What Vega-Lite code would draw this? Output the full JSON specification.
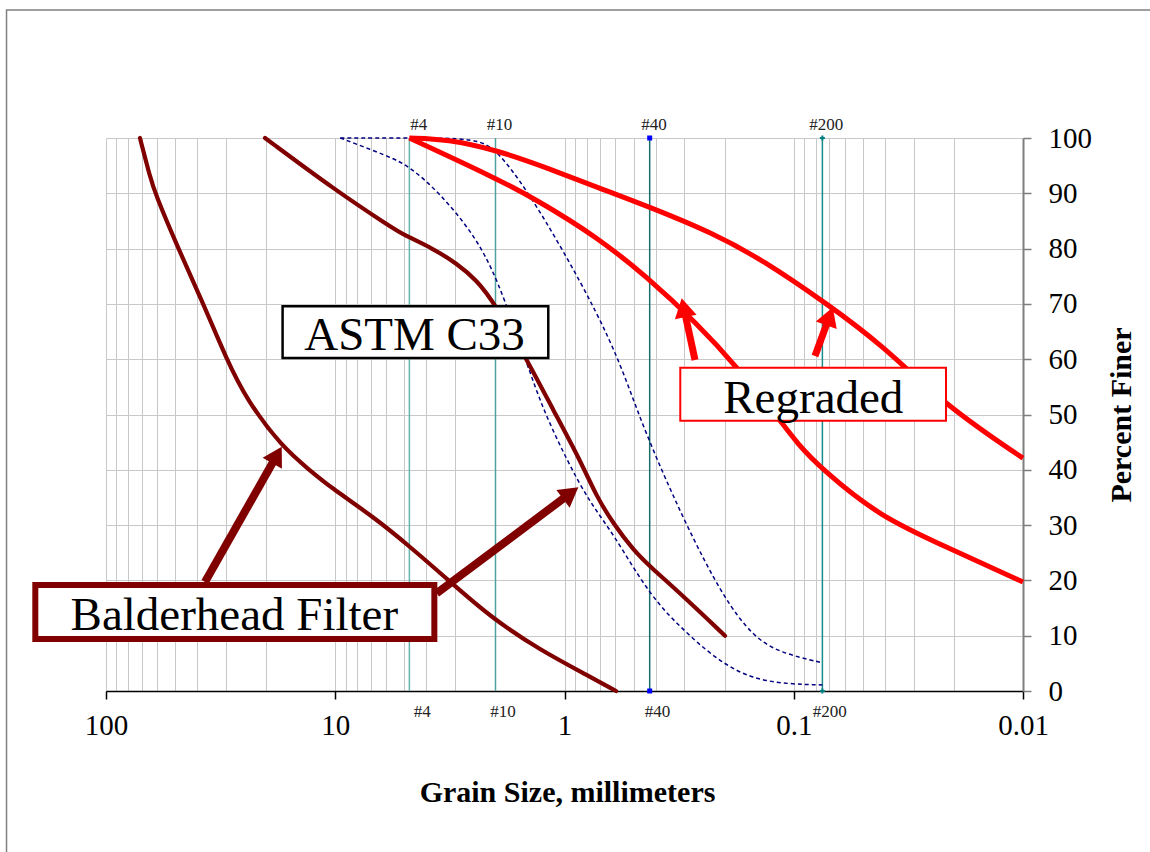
{
  "$schema": "https://vega.github.io/schema/vega-lite/v6.json",
  "width": 917,
  "height": 553,
  "autosize": {"type": "none"},
  "padding": {"left": 106, "top": 138, "right": 127, "bottom": 161},
  "background": "white",
  "view": {"stroke": null},
  "config": {"font": "Liberation Serif"},
  "resolve": {"scale": {"color": "independent", "strokeWidth": "independent", "shape": "independent"}},
  "datasets": {
    "curves": [
      {"s": "B1", "d": 71.1, "p": 100}, {"s": "B1", "d": 64.3, "p": 93}, {"s": "B1", "d": 61.1, "p": 90},
      {"s": "B1", "d": 48.4, "p": 80}, {"s": "B1", "d": 37.6, "p": 70}, {"s": "B1", "d": 29.8, "p": 60},
      {"s": "B1", "d": 24.3, "p": 52.6}, {"s": "B1", "d": 17.12, "p": 44.2}, {"s": "B1", "d": 12.98, "p": 40},
      {"s": "B1", "d": 10.54, "p": 36.9}, {"s": "B1", "d": 6.82, "p": 31.5}, {"s": "B1", "d": 4.72, "p": 26.1},
      {"s": "B1", "d": 3.16, "p": 19.8}, {"s": "B1", "d": 2.11, "p": 13.4}, {"s": "B1", "d": 1.279, "p": 7.4},
      {"s": "B1", "d": 0.774, "p": 2.6}, {"s": "B1", "d": 0.596, "p": 0},
      {"s": "B2", "d": 20.25, "p": 100}, {"s": "B2", "d": 10.03, "p": 90.6}, {"s": "B2", "d": 5.77, "p": 84.0},
      {"s": "B2", "d": 5.05, "p": 82.5}, {"s": "B2", "d": 3.735, "p": 80.0}, {"s": "B2", "d": 2.953, "p": 77.3},
      {"s": "B2", "d": 2.415, "p": 74.3}, {"s": "B2", "d": 2.011, "p": 70}, {"s": "B2", "d": 1.462, "p": 60},
      {"s": "B2", "d": 1.119, "p": 50.8}, {"s": "B2", "d": 0.8557, "p": 41.8}, {"s": "B2", "d": 0.7235, "p": 35.1},
      {"s": "B2", "d": 0.6126, "p": 30.3}, {"s": "B2", "d": 0.501, "p": 25.5}, {"s": "B2", "d": 0.4236, "p": 22.5},
      {"s": "B2", "d": 0.3134, "p": 17.7}, {"s": "B2", "d": 0.1995, "p": 10},
      {"s": "U", "d": 9.5, "p": 100}, {"s": "U", "d": 4.75, "p": 100}, {"s": "U", "d": 2.408, "p": 100},
      {"s": "U", "d": 1.97, "p": 97.8}, {"s": "U", "d": 1.458, "p": 90.6}, {"s": "U", "d": 1.015, "p": 79.7},
      {"s": "U", "d": 0.7214, "p": 68.4}, {"s": "U", "d": 0.5727, "p": 59.3}, {"s": "U", "d": 0.4829, "p": 50.8},
      {"s": "U", "d": 0.3949, "p": 41.8}, {"s": "U", "d": 0.2921, "p": 29.7}, {"s": "U", "d": 0.2035, "p": 17.0},
      {"s": "U", "d": 0.1505, "p": 9.8}, {"s": "U", "d": 0.1148, "p": 6.9}, {"s": "U", "d": 0.075, "p": 5.1},
      {"s": "L", "d": 9.5, "p": 100}, {"s": "L", "d": 5.77, "p": 96.6}, {"s": "L", "d": 4.72, "p": 94.8},
      {"s": "L", "d": 3.493, "p": 90}, {"s": "L", "d": 2.506, "p": 82.8}, {"s": "L", "d": 1.97, "p": 74.9},
      {"s": "L", "d": 1.462, "p": 59.3}, {"s": "L", "d": 1.237, "p": 50.8}, {"s": "L", "d": 0.978, "p": 41.8},
      {"s": "L", "d": 0.774, "p": 34.0}, {"s": "L", "d": 0.6126, "p": 28.5}, {"s": "L", "d": 0.4236, "p": 17.1},
      {"s": "L", "d": 0.2931, "p": 10.4}, {"s": "L", "d": 0.2029, "p": 4.7}, {"s": "L", "d": 0.1358, "p": 1.4},
      {"s": "L", "d": 0.075, "p": 1.1},
      {"s": "R1", "d": 4.75, "p": 100}, {"s": "R1", "d": 3.254, "p": 99.8}, {"s": "R1", "d": 1.97, "p": 97.8},
      {"s": "R1", "d": 1.192, "p": 94.6}, {"s": "R1", "d": 0.7214, "p": 91.1}, {"s": "R1", "d": 0.4236, "p": 87.5},
      {"s": "R1", "d": 0.225, "p": 82.8}, {"s": "R1", "d": 0.1362, "p": 77.9}, {"s": "R1", "d": 0.0716, "p": 70},
      {"s": "R1", "d": 0.04205, "p": 62.9}, {"s": "R1", "d": 0.02146, "p": 51.4},
      {"s": "R1", "d": 0.01, "p": 42.1},
      {"s": "R2", "d": 4.75, "p": 100}, {"s": "R2", "d": 2.05, "p": 93}, {"s": "R2", "d": 1.318, "p": 88.8},
      {"s": "R2", "d": 0.7214, "p": 82.1}, {"s": "R2", "d": 0.4366, "p": 74.9}, {"s": "R2", "d": 0.2651, "p": 66.5},
      {"s": "R2", "d": 0.1768, "p": 58.6}, {"s": "R2", "d": 0.1148, "p": 49}, {"s": "R2", "d": 0.0968, "p": 44.8},
      {"s": "R2", "d": 0.075, "p": 40}, {"s": "R2", "d": 0.04205, "p": 31.5}, {"s": "R2", "d": 0.02146, "p": 26},
      {"s": "R2", "d": 0.01, "p": 19.7}
    ],
    "sieves": [
      {"name": "#4", "d": 4.75, "lx": 4.32},
      {"name": "#10", "d": 2.0, "lx": 1.92},
      {"name": "#40", "d": 0.425, "lx": 0.407},
      {"name": "#200", "d": 0.075, "lx": 0.0721}
    ],
    "arrows": [
      {"g": "Balderhead", "x1": 37.0, "y1": 19.71, "x2": 17.95, "y2": 42.68, "angle": 29.5},
      {"g": "Balderhead", "x1": 3.61, "y1": 17.67, "x2": 0.9397, "y2": 35.8, "angle": 53.2},
      {"g": "Regraded", "x1": 0.2696, "y1": 59.86, "x2": 0.302, "y2": 69.33, "angle": 347.8},
      {"g": "Regraded", "x1": 0.0808, "y1": 60.58, "x2": 0.0698, "y2": 67.78, "angle": 20}
    ],
    "boxes": [
      {"label": "ASTM C33", "x1": 16.97, "x2": 1.177, "y1": 69.57, "y2": 60.22, "tx": 4.51, "ty": 61.66},
      {"label": "Regraded", "x1": 0.3126, "x2": 0.02167, "y1": 58.46, "y2": 48.88, "tx": 0.08216, "ty": 50.36},
      {"label": "Balderhead Filter", "x1": 203.4, "x2": 3.696, "y1": 19.17, "y2": 9.4, "tx": 27.56, "ty": 11.03}
    ]
  },
  "layer": [
    {
      "data": {"name": "sieves"},
      "mark": {"type": "rule", "strokeWidth": 1.5},
      "encoding": {
        "x": {
          "field": "d", "type": "quantitative",
          "scale": {"type": "log", "domain": [0.01, 100], "reverse": true},
          "axis": {
            "values": [0.01, 0.02, 0.03, 0.04, 0.05, 0.06, 0.07, 0.08, 0.09, 0.1, 0.2, 0.3, 0.4, 0.5, 0.6, 0.7, 0.8, 0.9, 1, 2, 3, 4, 5, 6, 7, 8, 9, 10, 20, 30, 40, 50, 60, 70, 80, 90, 100],
            "grid": true, "gridColor": "#c8c8c8", "gridWidth": 1,
            "domainColor": "#000000", "domainWidth": 1.5,
            "tickColor": "#000000", "tickWidth": 1.5, "tickSize": 8,
            "tickOpacity": {"condition": {"test": "abs(log(datum.value)/LN10 - round(log(datum.value)/LN10)) < 0.001", "value": 1}, "value": 0},
            "format": "~g",
            "labelExpr": "abs(log(datum.value)/LN10 - round(log(datum.value)/LN10)) < 0.001 ? datum.label : ''",
            "labelFont": "Liberation Serif", "labelFontSize": 29, "labelColor": "#000000",
            "labelPadding": 12, "labelOverlap": false, "labelFlush": false, "labelBound": false,
            "title": "Grain Size, millimeters",
            "titleFont": "Liberation Serif", "titleFontSize": 30, "titleFontWeight": "bold", "titleColor": "#000000",
            "titleBaseline": "alphabetic", "titleAlign": "center", "titleX": 461, "titleY": 110
          }
        },
        "y": {
          "datum": 0, "type": "quantitative",
          "scale": {"domain": [0, 100], "nice": false, "zero": false},
          "axis": {
            "orient": "right",
            "values": [0, 10, 20, 30, 40, 50, 60, 70, 80, 90, 100],
            "grid": true, "gridColor": "#c8c8c8", "gridWidth": 1,
            "domainColor": "#7f7f7f", "domainWidth": 2,
            "tickColor": "#7f7f7f", "tickWidth": 1.5, "tickSize": 8,
            "labelFont": "Liberation Serif", "labelFontSize": 29, "labelColor": "#000000",
            "labelPadding": 17, "labelAlign": "left", "labelBaseline": "middle", "labelBound": false, "labelFlush": false,
            "title": "Percent Finer",
            "titleFont": "Liberation Serif", "titleFontSize": 30, "titleFontWeight": "bold", "titleColor": "#000000",
            "titleAngle": 270, "titleAlign": "center", "titleBaseline": "alphabetic", "titleX": 107, "titleY": 276.5
          }
        },
        "y2": {"datum": 100},
        "color": {"field": "name", "type": "nominal", "scale": {"domain": ["#4", "#10", "#40", "#200"], "range": ["#68b5b0", "#4fa39e", "#1a6e6e", "#1b8c8c"]}, "legend": null}
      }
    },
    {
      "data": {"values": [{"k": 1}]},
      "mark": {"type": "rect", "fill": "white", "fillOpacity": 0, "stroke": "#808080", "strokeWidth": 1.5},
      "encoding": {
        "x": {"datum": 271.6, "type": "quantitative"},
        "x2": {"datum": 0.001},
        "y": {"datum": 123.15, "type": "quantitative"},
        "y2": {"datum": -40}
      }
    },
    {
      "data": {"name": "sieves"},
      "mark": {"type": "text", "fontSize": 17, "font": "Liberation Serif", "baseline": "middle", "align": "center", "color": "#222222"},
      "encoding": {
        "x": {"field": "lx", "type": "quantitative"},
        "y": {"datum": 102.35, "type": "quantitative"},
        "text": {"field": "name"}
      }
    },
    {
      "data": {"name": "sieves"},
      "mark": {"type": "text", "fontSize": 17, "font": "Liberation Serif", "baseline": "middle", "align": "center", "color": "#222222", "dx": 3.5},
      "encoding": {
        "x": {"field": "lx", "type": "quantitative"},
        "y": {"datum": -3.8, "type": "quantitative"},
        "text": {"field": "name"}
      }
    },
    {
      "data": {"name": "sieves"},
      "transform": [{"filter": "datum.name == '#40' || datum.name == '#200'"}],
      "mark": {"type": "point", "filled": true, "opacity": 1, "size": 25},
      "encoding": {
        "x": {"field": "d", "type": "quantitative"},
        "y": {"datum": 100, "type": "quantitative"},
        "color": {"field": "name", "type": "nominal", "scale": {"domain": ["#40", "#200"], "range": ["#0000ff", "#008080"]}, "legend": null},
        "shape": {"field": "name", "type": "nominal", "scale": {"domain": ["#40", "#200"], "range": ["square", "cross"]}, "legend": null}
      }
    },
    {
      "data": {"name": "sieves"},
      "transform": [{"filter": "datum.name == '#40' || datum.name == '#200'"}],
      "mark": {"type": "point", "filled": true, "opacity": 1, "size": 25},
      "encoding": {
        "x": {"field": "d", "type": "quantitative"},
        "y": {"datum": 0, "type": "quantitative"},
        "color": {"field": "name", "type": "nominal", "scale": {"domain": ["#40", "#200"], "range": ["#0000ff", "#008080"]}, "legend": null},
        "shape": {"field": "name", "type": "nominal", "scale": {"domain": ["#40", "#200"], "range": ["square", "cross"]}, "legend": null}
      }
    },
    {
      "data": {"name": "curves"},
      "transform": [{"filter": "datum.s == 'U' || datum.s == 'L'"}],
      "mark": {"type": "line", "color": "#000080", "strokeWidth": 1.5, "strokeDash": [4, 3], "interpolate": "basis"},
      "encoding": {
        "x": {"field": "d", "type": "quantitative"},
        "y": {"field": "p", "type": "quantitative"},
        "detail": {"field": "s"},
        "order": {"field": "d", "sort": "descending"}
      }
    },
    {
      "data": {"name": "curves"},
      "transform": [{"filter": "datum.s == 'B1' || datum.s == 'B2'"}],
      "mark": {"type": "line", "color": "#800000", "strokeWidth": 4.2, "interpolate": "basis", "strokeCap": "round"},
      "encoding": {
        "x": {"field": "d", "type": "quantitative"},
        "y": {"field": "p", "type": "quantitative"},
        "detail": {"field": "s"},
        "order": {"field": "d", "sort": "descending"}
      }
    },
    {
      "data": {"name": "curves"},
      "transform": [{"filter": "datum.s == 'R1' || datum.s == 'R2'"}],
      "mark": {"type": "line", "color": "#ff0000", "strokeWidth": 5, "interpolate": "basis"},
      "encoding": {
        "x": {"field": "d", "type": "quantitative"},
        "y": {"field": "p", "type": "quantitative"},
        "detail": {"field": "s"},
        "order": {"field": "d", "sort": "descending"}
      }
    },
    {
      "data": {"name": "arrows"},
      "mark": {"type": "rule", "strokeCap": "butt"},
      "encoding": {
        "x": {"field": "x1", "type": "quantitative"},
        "x2": {"field": "x2"},
        "y": {"field": "y1", "type": "quantitative"},
        "y2": {"field": "y2"},
        "color": {"field": "g", "type": "nominal", "scale": {"domain": ["Balderhead", "Regraded"], "range": ["#800000", "#ff0000"]}, "legend": null},
        "strokeWidth": {"field": "g", "type": "nominal", "scale": {"domain": ["Balderhead", "Regraded"], "range": [8, 7]}, "legend": null}
      }
    },
    {
      "data": {"name": "arrows"},
      "mark": {"type": "point", "shape": "triangle-up", "filled": true, "opacity": 1, "size": 490, "strokeWidth": 0},
      "encoding": {
        "x": {"field": "x2", "type": "quantitative"},
        "y": {"field": "y2", "type": "quantitative"},
        "angle": {"field": "angle", "type": "quantitative", "scale": null},
        "color": {"field": "g", "type": "nominal", "scale": {"domain": ["Balderhead", "Regraded"], "range": ["#800000", "#ff0000"]}, "legend": null}
      }
    },
    {
      "data": {"name": "boxes"},
      "transform": [{"filter": "datum.label == 'ASTM C33'"}],
      "mark": {"type": "rect", "fill": "white", "stroke": "#000000", "strokeWidth": 2.5},
      "encoding": {
        "x": {"field": "x1", "type": "quantitative"},
        "x2": {"field": "x2"},
        "y": {"field": "y1", "type": "quantitative"},
        "y2": {"field": "y2"}
      }
    },
    {
      "data": {"name": "boxes"},
      "transform": [{"filter": "datum.label == 'Regraded'"}],
      "mark": {"type": "rect", "fill": "white", "stroke": "#ff0000", "strokeWidth": 2},
      "encoding": {
        "x": {"field": "x1", "type": "quantitative"},
        "x2": {"field": "x2"},
        "y": {"field": "y1", "type": "quantitative"},
        "y2": {"field": "y2"}
      }
    },
    {
      "data": {"name": "boxes"},
      "transform": [{"filter": "datum.label == 'Balderhead Filter'"}],
      "mark": {"type": "rect", "fill": "white", "stroke": "#800000", "strokeWidth": 6},
      "encoding": {
        "x": {"field": "x1", "type": "quantitative"},
        "x2": {"field": "x2"},
        "y": {"field": "y1", "type": "quantitative"},
        "y2": {"field": "y2"}
      }
    },
    {
      "data": {"name": "boxes"},
      "mark": {"type": "text", "fontSize": 47, "font": "Liberation Serif", "align": "center", "baseline": "alphabetic", "color": "#000000"},
      "encoding": {
        "x": {"field": "tx", "type": "quantitative"},
        "y": {"field": "ty", "type": "quantitative"},
        "text": {"field": "label"}
      }
    }
  ]
}
